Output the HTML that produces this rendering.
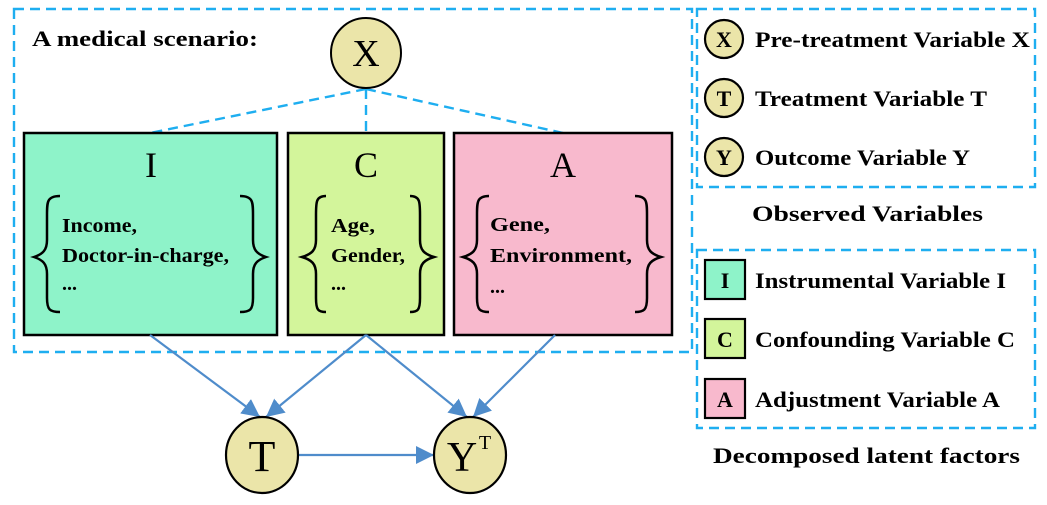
<!DOCTYPE html>
<html><head><meta charset="utf-8"><style>
html,body{margin:0;padding:0;background:#fff;}
svg{display:block;}
text{font-family:"Liberation Serif",serif;}
.b{font-weight:bold;}
</style></head><body>
<svg width="1047" height="505" viewBox="0 0 1047 505" xmlns="http://www.w3.org/2000/svg">
<defs>
<marker id="ah2" markerWidth="20" markerHeight="18" refX="18" refY="9" orient="auto" markerUnits="userSpaceOnUse">
<path d="M0,0 L18,9 L0,18 Z" fill="#4f8ccb"/>
</marker>
</defs>
<g fill="none" stroke="#1eaef0" stroke-width="2.4" stroke-dasharray="10,6">
<rect x="14" y="9" width="678" height="343"/>
<rect x="697" y="9" width="338" height="178"/>
<rect x="697" y="250" width="338" height="178"/>
<line x1="366" y1="89" x2="150" y2="133"/>
<line x1="366" y1="89" x2="366" y2="133"/>
<line x1="366" y1="89" x2="563" y2="133"/>
</g>
<text x="32" y="46" class="b" font-size="22" textLength="226" lengthAdjust="spacingAndGlyphs">A medical scenario:</text>
<circle cx="366" cy="53" r="35" fill="#ebe5a9" stroke="#000" stroke-width="2"/>
<text x="366" y="66" font-size="38" text-anchor="middle">X</text>

<rect x="24" y="133" width="253" height="202" fill="#8ef3c9" stroke="#000" stroke-width="2.5"/>
<rect x="288" y="133" width="156" height="202" fill="#d3f59b" stroke="#000" stroke-width="2.5"/>
<rect x="454" y="133" width="218" height="202" fill="#f8b9cd" stroke="#000" stroke-width="2.5"/>
<text x="151" y="177" font-size="36" text-anchor="middle">I</text>
<text x="366" y="177" font-size="36" text-anchor="middle">C</text>
<text x="563" y="177" font-size="36" text-anchor="middle">A</text>

<g fill="none" stroke="#000" stroke-width="2.5">
<path d="M60,196 C47,196 47,202 47,215 L47,240 C47,250 43,254 34,257 C43,260 47,264 47,274 L47,298 C47,310 50,312 60,312"/>
<path d="M240,196 C253,196 253,202 253,215 L253,240 C253,250 257,254 266,257 C257,260 253,264 253,274 L253,298 C253,310 250,312 240,312"/>
<path d="M326,196 C316,196 316,202 316,215 L316,240 C316,250 312,254 302,257 C312,260 316,264 316,274 L316,298 C316,310 318,312 326,312"/>
<path d="M410,196 C420,196 420,202 420,215 L420,240 C420,250 424,254 434,257 C424,260 420,264 420,274 L420,298 C420,310 418,312 410,312"/>
<path d="M489,196 C477,196 477,202 477,215 L477,240 C477,250 473,254 463,257 C473,260 477,264 477,274 L477,298 C477,310 480,312 489,312"/>
<path d="M635,196 C647,196 647,202 647,215 L647,240 C647,250 651,254 661,257 C651,260 647,264 647,274 L647,298 C647,310 644,312 635,312"/>
</g>
<g font-size="20" font-weight="bold">
<text x="62" y="232" textLength="75" lengthAdjust="spacingAndGlyphs">Income,</text>
<text x="62" y="262" textLength="167" lengthAdjust="spacingAndGlyphs">Doctor-in-charge,</text>
<text x="62" y="290">...</text>
<text x="331" y="232" textLength="44" lengthAdjust="spacingAndGlyphs">Age,</text>
<text x="331" y="262" textLength="74" lengthAdjust="spacingAndGlyphs">Gender,</text>
<text x="331" y="290">...</text>
<text x="490" y="231" textLength="60" lengthAdjust="spacingAndGlyphs">Gene,</text>
<text x="490" y="262" textLength="142" lengthAdjust="spacingAndGlyphs">Environment,</text>
<text x="490" y="293">...</text>
</g>

<g stroke="#4f8ccb" stroke-width="2.2" fill="none">
<line x1="150" y1="335" x2="260" y2="417" marker-end="url(#ah2)"/>
<line x1="366" y1="335" x2="266" y2="417" marker-end="url(#ah2)"/>
<line x1="366" y1="335" x2="467" y2="417" marker-end="url(#ah2)"/>
<line x1="555" y1="335" x2="473" y2="417" marker-end="url(#ah2)"/>
<line x1="298" y1="455" x2="434" y2="455" marker-end="url(#ah2)"/>
</g>
<ellipse cx="262" cy="455" rx="36" ry="38" fill="#ebe5a9" stroke="#000" stroke-width="2.2"/>
<text x="262" y="471" font-size="44" text-anchor="middle">T</text>
<ellipse cx="470" cy="455" rx="36" ry="38" fill="#ebe5a9" stroke="#000" stroke-width="2.2"/>
<text x="462" y="471" font-size="42" text-anchor="middle">Y</text>
<text x="485" y="449" font-size="20" text-anchor="middle">T</text>

<g stroke="#000" stroke-width="2.2">
<circle cx="724" cy="39" r="19" fill="#ebe5a9"/>
<circle cx="724" cy="98" r="19" fill="#ebe5a9"/>
<circle cx="724" cy="157" r="19" fill="#ebe5a9"/>
<rect x="705" y="260" width="40" height="39" fill="#8ef3c9"/>
<rect x="705" y="319" width="40" height="39" fill="#d3f59b"/>
<rect x="705" y="379" width="40" height="39" fill="#f8b9cd"/>
</g>
<g font-size="22" font-weight="bold" text-anchor="middle">
<text x="724" y="47">X</text>
<text x="724" y="106">T</text>
<text x="724" y="165">Y</text>
<text x="725" y="288">I</text>
<text x="725" y="347">C</text>
<text x="725" y="407">A</text>
</g>
<g font-size="22" font-weight="bold">
<text x="755" y="47" textLength="275" lengthAdjust="spacingAndGlyphs">Pre-treatment Variable X</text>
<text x="755" y="106" textLength="232" lengthAdjust="spacingAndGlyphs">Treatment Variable T</text>
<text x="755" y="165" textLength="215" lengthAdjust="spacingAndGlyphs">Outcome Variable Y</text>
<text x="755" y="288" textLength="251" lengthAdjust="spacingAndGlyphs">Instrumental Variable I</text>
<text x="755" y="347" textLength="260" lengthAdjust="spacingAndGlyphs">Confounding Variable C</text>
<text x="755" y="407" textLength="245" lengthAdjust="spacingAndGlyphs">Adjustment Variable A</text>
</g>
<g font-size="22" font-weight="bold">
<text x="752" y="221" textLength="231" lengthAdjust="spacingAndGlyphs">Observed Variables</text>
<text x="713" y="463" textLength="307" lengthAdjust="spacingAndGlyphs">Decomposed latent factors</text>
</g>
</svg>
</body></html>
